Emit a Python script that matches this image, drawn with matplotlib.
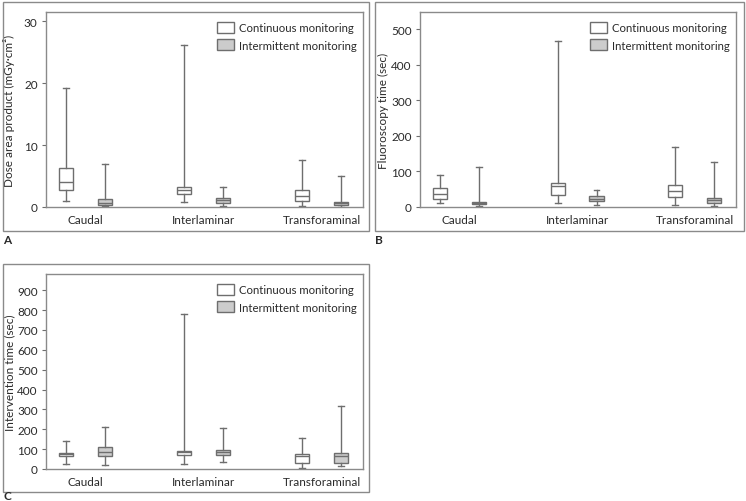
import matplotlib
matplotlib.use("Agg")
import matplotlib.pyplot as plt
from matplotlib.patches import Patch, Rectangle

plt.rcParams['font.family'] = ['Lato', 'DejaVu Sans']

# categories along the x axis
categories = ["Caudal", "Interlaminar", "Transforaminal"]
groups = ["Continuous monitoring", "Intermittent monitoring"]

# box stats per category: (min, q1, median, q3, max)
# A: dose area product
dap_cont = [(1.0, 2.7, 4.1, 6.35, 19.3), (0.8, 2.05, 2.75, 3.2, 26.1), (0.15, 0.97, 1.72, 2.7, 7.65)]
dap_inter = [(0.15, 0.3, 0.6, 1.3, 6.95), (0.15, 0.65, 1.08, 1.45, 3.2), (0.05, 0.38, 0.6, 0.8, 5.06)]
# B: fluoroscopy time
fluoro_cont = [(12, 22.5, 37.5, 54, 90), (12, 35, 58, 67.5, 467), (6, 29, 44, 61, 170)]
fluoro_inter = [(3, 7.5, 10, 14, 114), (5.6, 17, 23.5, 31, 48), (2, 11, 19, 25, 127)]
# C: intervention time
interv_cont = [(23.5, 67, 75.5, 80.5, 143), (27, 72, 84, 92, 782), (3, 32, 65, 75, 156)]
interv_inter = [(18.5, 65.5, 87, 112.5, 210), (35, 72, 87, 96, 205), (17, 32, 67, 79, 319)]

panels = [
    ("A", "Dose area product (mGy\u00b7cm\u00b2)", dap_cont, dap_inter, [0, 10, 20, 30], 31.5),
    ("B", "Fluoroscopy time (sec)", fluoro_cont, fluoro_inter, [0, 100, 200, 300, 400, 500], 549),
    ("C", "Intervention time (sec)", interv_cont, interv_inter, list(range(0, 1000, 100)), 982),
]

W, H = 746, 502
ax_rects = [(46, 13, 363, 208), (420, 13, 736, 208), (46, 275, 363, 470)]
frames = [(3, 3, 369, 232), (375, 3, 744, 232), (3, 265, 369, 493)]
letters = [(3, 241), (375, 241), (3, 497)]

text_c = "#2a2a2a"
line_c = "#6e6e6e"
fill_c = "#cccccc"
fs = 8.5


def to_stats(vals):
    out = []
    for lo, q1, med, q3, hi in vals:
        out.append(dict(whislo=lo, q1=q1, med=med, q3=q3, whishi=hi, fliers=[]))
    return out


fig = plt.figure(figsize=(W / 100, H / 100), dpi=100)

for i, (letter, ylabel, cont, inter, yticks, ymax) in enumerate(panels):
    l, t, r, b = ax_rects[i]
    ax = fig.add_axes([l / W, 1 - b / H, (r - l) / W, (b - t) / H])

    pos = [1, 2, 3]
    off = 0.165
    common = dict(widths=0.12, showfliers=False, patch_artist=True,
                  whiskerprops=dict(color=line_c, lw=1.0),
                  capprops=dict(color=line_c, lw=1.0),
                  medianprops=dict(color=line_c, lw=1.0))
    ax.bxp(to_stats(cont), positions=[p - off for p in pos], capwidths=0.05,
           boxprops=dict(facecolor="white", edgecolor=line_c, lw=1.0), **common)
    ax.bxp(to_stats(inter), positions=[p + off for p in pos], capwidths=0.05,
           boxprops=dict(facecolor=fill_c, edgecolor=line_c, lw=1.0), **common)

    ax.set_xlim(0.665, 3.35)
    ax.set_ylim(0, ymax)
    ax.set_xticks(pos)
    ax.set_xticklabels(categories)
    ax.set_yticks(yticks)
    ax.tick_params(axis='x', length=0, pad=5, labelsize=fs, colors=text_c)
    ax.tick_params(axis='y', length=3, width=0.8, color=line_c, pad=3, labelsize=fs, labelcolor=text_c)
    for s in ax.spines.values():
        s.set_color("#8a8a8a")
        s.set_linewidth(1.0)
    ax.set_ylabel(ylabel, fontsize=fs, color=text_c)
    ax.yaxis.set_label_coords(-0.098, 0.5)

    handles = [Patch(facecolor="white", edgecolor=line_c, lw=1.0, label=groups[0]),
               Patch(facecolor=fill_c, edgecolor=line_c, lw=1.0, label=groups[1])]
    leg = ax.legend(handles=handles, loc="upper left", bbox_to_anchor=(0.539, 0.95),
                    frameon=False, fontsize=8.2, handlelength=1.5, handleheight=1.1,
                    handletextpad=0.4, labelspacing=0.55, borderaxespad=0.0, borderpad=0.0)
    for txt in leg.get_texts():
        txt.set_color(text_c)

    fl, ft, fr, fb = frames[i]
    fig.add_artist(Rectangle((fl / W, 1 - fb / H), (fr - fl) / W, (fb - ft) / H,
                             transform=fig.transFigure, fill=False,
                             edgecolor="#8a8a8a", lw=1.0))
    lx, ly = letters[i]
    fig.text(lx / W, 1 - ly / H, letter, fontsize=8.5, fontweight="bold",
             color=text_c, ha="left", va="center")

fig.savefig("out.png", dpi=100)
